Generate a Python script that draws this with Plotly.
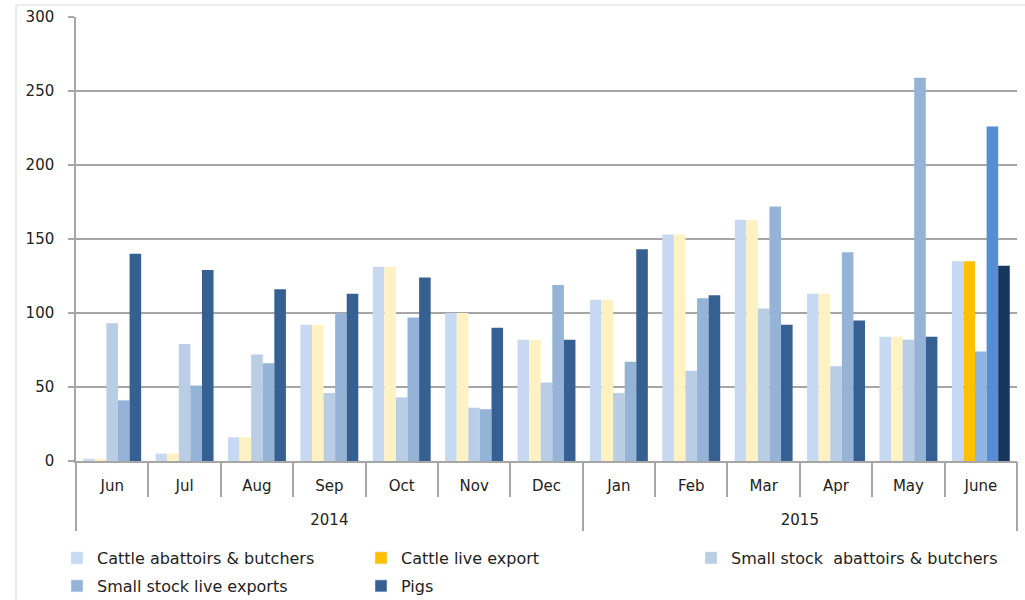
import plotly.graph_objects as go

years = ["2014", "2015"]
months = ["Jun", "Jul", "Aug", "Sep", "Oct", "Nov", "Dec",
          "Jan", "Feb", "Mar", "Apr", "May", "June"]
months_per_year = [7, 6]

cattle_abattoirs = [1.5, 5, 16, 92, 131, 100, 82, 109, 153, 163, 113, 84, 135]
cattle_live_export = [1.5, 5, 16, 92, 131, 100, 82, 109, 153, 163, 113, 84, 135]
small_stock_abattoirs = [93, 79, 72, 46, 43, 36, 53, 46, 61, 103, 64, 82, 74]
small_stock_live = [41, 51, 66, 100, 97, 35, 119, 67, 110, 172, 141, 259, 226]
pigs = [140, 129, 116, 113, 124, 90, 82, 143, 112, 92, 95, 84, 132]

names = ["Cattle abattoirs & butchers", "Cattle live export",
         "Small stock  abattoirs & butchers", "Small stock live exports", "Pigs"]
series = [cattle_abattoirs, cattle_live_export, small_stock_abattoirs, small_stock_live, pigs]
base_colors = ["#C6D9F1", "#FFF2C2", "#B9CDE5", "#95B3D7", "#366092"]
last_colors = ["#C6D9F1", "#FFC000", "#8DB4E2", "#558ED5", "#17375E"]
legend_colors = ["#C6D9F1", "#FFC000", "#B9CDE5", "#95B3D7", "#366092"]

FONT = "DejaVu Sans"
GRID = "#A6A6A6"
TXT = "#222222"

n = len(months)
xr = [-0.5, n - 0.5]
month_bounds = [i - 0.5 for i in range(n + 1)]
year_bounds = [-0.5]
year_centres = []
acc = 0
for cnt in months_per_year:
    year_centres.append(acc + (cnt - 1) / 2)
    acc += cnt
    year_bounds.append(acc - 0.5)

fig = go.Figure()
for name, vals, bc, lc in zip(names, series, base_colors, last_colors):
    colors = [bc] * (n - 1) + [lc]
    fig.add_trace(go.Bar(x=months, y=vals, name=name, showlegend=False,
                         marker=dict(color=colors, line=dict(width=0))))

# legend-only entries (on a hidden axis so they don't affect grouping)
legend_ids = ["legend", "legend2", "legend3", "legend4", "legend5"]
for name, col, lid in zip(names, legend_colors, legend_ids):
    fig.add_trace(go.Bar(x=[None], y=[None], name=name, marker=dict(color=col),
                         xaxis="x2", yaxis="y2", legend=lid, showlegend=True,
                         hoverinfo="skip"))
for ax in ["x3", "x4"]:
    fig.add_trace(go.Scatter(x=[None], y=[None], xaxis=ax, yaxis="y",
                             showlegend=False, hoverinfo="skip"))

W, H = 1025, 600
L, R, T, B = 76, 8, 17, 139
pw, ph = W - L - R, H - T - B

def px_x(v):
    return (v - L) / pw

def px_y(v):
    return (H - B - v) / ph

legend_pos = [(57, 558), (361, 558), (691, 558), (57, 586), (361, 586)]
leg_kwargs = {}
for lid, (lx, ly) in zip(legend_ids, legend_pos):
    leg_kwargs[lid] = dict(x=px_x(lx), y=px_y(ly), xanchor="left", yanchor="middle",
                           bgcolor="rgba(0,0,0,0)", borderwidth=0,
                           font=dict(family=FONT, size=16, color=TXT),
                           itemclick=False, itemdoubleclick=False)

tick_common = dict(tickcolor=GRID, tickwidth=1.5, showgrid=False, zeroline=False)

fig.update_layout(
    width=W, height=H,
    margin=dict(l=L, r=R, t=T, b=B, pad=0, autoexpand=False),
    paper_bgcolor="white", plot_bgcolor="white",
    barmode="group", bargap=0.2, bargroupgap=0,
    font=dict(family=FONT, size=15, color=TXT),
    xaxis=dict(type="category", range=xr, showgrid=False, showline=True,
               linecolor=GRID, linewidth=1.5, ticks="", ticklabelstandoff=10,
               tickfont=dict(family=FONT, size=15, color=TXT)),
    xaxis2=dict(overlaying="x", anchor="y2", side="bottom", range=xr,
                tickmode="array", tickvals=month_bounds, ticks="outside",
                ticklen=35, showticklabels=False, showline=False, **tick_common),
    xaxis3=dict(overlaying="x", anchor="y", side="bottom", range=xr,
                tickmode="array", tickvals=year_bounds, ticks="outside",
                ticklen=69, showticklabels=False, showline=False, **tick_common),
    xaxis4=dict(overlaying="x", anchor="y", side="bottom", range=xr,
                tickmode="array", tickvals=year_centres, ticktext=years,
                ticks="", ticklabelstandoff=48, showline=False,
                tickfont=dict(family=FONT, size=15, color=TXT),
                showgrid=False, zeroline=False),
    yaxis=dict(range=[0, 300], dtick=50, showgrid=True, gridcolor=GRID, gridwidth=1.5,
               showline=True, linecolor=GRID, linewidth=1.5, ticks="outside",
               ticklen=6, tickcolor=GRID, tickwidth=1.5, zeroline=False,
               ticklabelstandoff=11,
               tickfont=dict(family=FONT, size=15, color=TXT)),
    yaxis2=dict(visible=False, overlaying="y", range=[0, 1]),
    shapes=[dict(type="rect", xref="paper", yref="paper",
                 x0=px_x(16), x1=px_x(1040), y0=px_y(620), y1=px_y(5),
                 line=dict(color="#D9D9D9", width=1), fillcolor="rgba(0,0,0,0)",
                 layer="below")],
    **leg_kwargs,
)

fig.write_html("out.html", config={"displayModeBar": False},
               post_script="document.body.style.margin='0';")
